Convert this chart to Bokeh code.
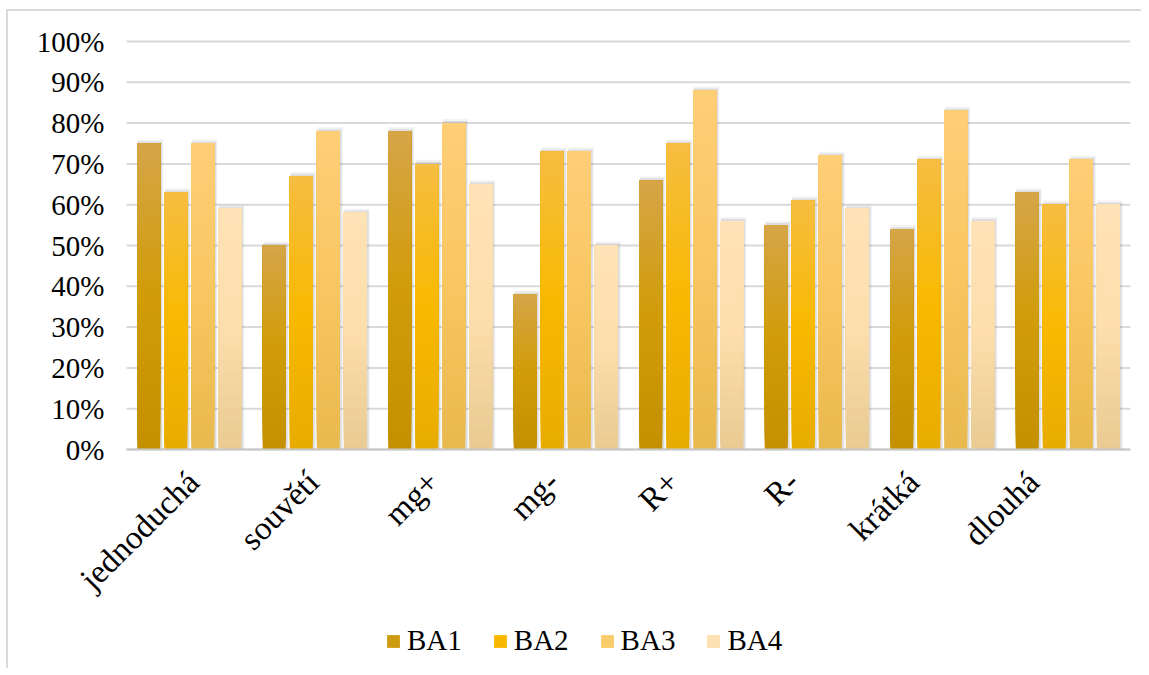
import math
from bokeh.plotting import figure
from bokeh.models import ColumnDataSource, Range1d, Legend, LegendItem
from bokeh.core.properties import value
from bokeh.embed import file_html
from bokeh.resources import INLINE

categories = ["jednoduchá", "souvětí", "mg+", "mg-", "R+", "R-", "krátká", "dlouhá"]
series = ["BA1", "BA2", "BA3", "BA4"]
ba1 = [0.75, 0.50, 0.78, 0.38, 0.66, 0.55, 0.54, 0.63]
ba2 = [0.63, 0.67, 0.70, 0.73, 0.75, 0.61, 0.71, 0.60]
ba3 = [0.75, 0.78, 0.80, 0.73, 0.88, 0.72, 0.83, 0.71]
ba4 = [0.59, 0.58, 0.65, 0.50, 0.56, 0.59, 0.56, 0.60]
values = [ba1, ba2, ba3, ba4]
y_ticks = [0, 0.1, 0.2, 0.3, 0.4, 0.5, 0.6, 0.7, 0.8, 0.9, 1.0]
y_labels = ["0%", "10%", "20%", "30%", "40%", "50%", "60%", "70%", "80%", "90%", "100%"]

# gradient stops per series: bottom, middle, top
grad = [
    [(196, 144, 0), (209, 156, 8), (213, 165, 72)],
    [(232, 172, 0), (249, 185, 0), (246, 189, 66)],
    [(232, 185, 78), (248, 198, 96), (254, 206, 120)],
    [(232, 202, 146), (253, 222, 172), (255, 226, 182)],
]
legend_cols = ["#CD9A10", "#F8B800", "#FACB6A", "#FDE0B0"]

FONT = "Liberation Serif"

# layout (pixels)
CAT_W = 125.5          # width of one category slot
LEFT_PAD = 106         # frame room left of the first category (value labels)
PLOT_H = 408           # height of 0..100%
TOP_PAD = 16           # frame room above 100% so its label is not clipped
BELOW = 219            # frame room below 0% for category labels and legend
FRAME_H = PLOT_H + TOP_PAD + BELOW
ncat = len(categories)
x_start = -LEFT_PAD / CAT_W
y_start = -BELOW / PLOT_H
y_end = 1 + TOP_PAD / PLOT_H

p = figure(x_range=Range1d(x_start, ncat), y_range=Range1d(y_start, y_end),
           frame_width=int(round(LEFT_PAD + CAT_W * ncat)), frame_height=FRAME_H,
           x_axis_location=None, y_axis_location=None,
           min_border_left=12, min_border_top=30 - TOP_PAD, min_border_right=11, min_border_bottom=0,
           output_backend="svg", toolbar_location=None,
           background_fill_color="white", border_fill_color="white", outline_line_color=None)
p.grid.visible = False
p.styles = {"margin-left": "6px", "margin-top": "9px",
            "border-left": "2px solid #D9D9D9", "border-top": "2px solid #D9D9D9"}

xc = [i + 0.5 for i in range(ncat)]           # category centres
offsets = [-0.323, -0.1076, 0.1076, 0.323]
bw = 0.183
N = 40

def lerp(a, b, t):
    return tuple(int(round(a[k] + (b[k] - a[k]) * t)) for k in range(3))

def col_at(stops, t):
    if t < 0.5:
        c = lerp(stops[0], stops[1], t / 0.5)
    else:
        c = lerp(stops[1], stops[2], (t - 0.5) / 0.5)
    return "#%02x%02x%02x" % c

# horizontal gridlines over the category span
p.segment(x0=[0] * len(y_ticks), y0=y_ticks, x1=[ncat] * len(y_ticks), y1=y_ticks,
          line_color="#D9D9D9", line_width=2)

# value labels
p.text(x=[0] * len(y_ticks), y=y_ticks, text=y_labels, x_offset=-22,
       text_align="right", text_baseline="middle",
       text_font=value(FONT), text_font_size="29px", text_color="black")

# shadows
for si, vals in enumerate(values):
    for (dx, extra_w, extra_t, alpha) in [(0.014, 0.020, 0.010, 0.10), (0.010, 0.010, 0.005, 0.18)]:
        p.vbar(x=[c + offsets[si] + dx for c in xc], top=[v + extra_t for v in vals], bottom=0,
               width=bw + extra_w, fill_color="#808080", fill_alpha=alpha, line_color=None)

# gradient bars (each slice runs from its own bottom to the bar top; later slices cover earlier)
for si, vals in enumerate(values):
    xs, bots, tops, cols = [], [], [], []
    for ci, v in enumerate(vals):
        for k in range(N):
            xs.append(xc[ci] + offsets[si])
            bots.append(v * k / N)
            tops.append(v)
            cols.append(col_at(grad[si], (k + 0.5) / N))
    src = ColumnDataSource(dict(x=xs, bottom=bots, top=tops, color=cols))
    p.vbar(x="x", top="top", bottom="bottom", width=bw, source=src,
           fill_color="color", line_color=None)

# category axis line at 0%
p.segment(x0=[0], y0=[0], x1=[ncat], y1=[0], line_color="#C8C8C8", line_width=2)

# category labels, rotated 45 degrees under each group
LABEL_DRIFT = 5.5 / CAT_W
lab_x = [c - LABEL_DRIFT * (i - 2) for i, c in enumerate(xc)]
lab_src = ColumnDataSource(dict(x=lab_x, y=[0] * ncat, cat=categories))
p.text(x="x", y="y", text="cat", source=lab_src, angle=math.pi / 4,
       text_align="right", text_baseline="middle", x_offset=-7, y_offset=27,
       text_font=value(FONT), text_font_size="33px", text_color="black")

# legend
items = []
for si, name in enumerate(series):
    r = p.vbar(x=[xc[0]], top=[0], bottom=[0], width=bw,
               fill_color=legend_cols[si], line_color=None)
    items.append(LegendItem(label=name, renderers=[r]))
legend = Legend(items=items, orientation="horizontal", location=(365, 11),
                label_text_font=FONT, label_text_font_size="29px", label_text_color="black",
                glyph_width=16, glyph_height=16, spacing=30, label_standoff=6,
                border_line_color=None, background_fill_alpha=0, padding=0, margin=0)
p.add_layout(legend, "center")

open("out.html", "w").write(file_html(p, INLINE))
